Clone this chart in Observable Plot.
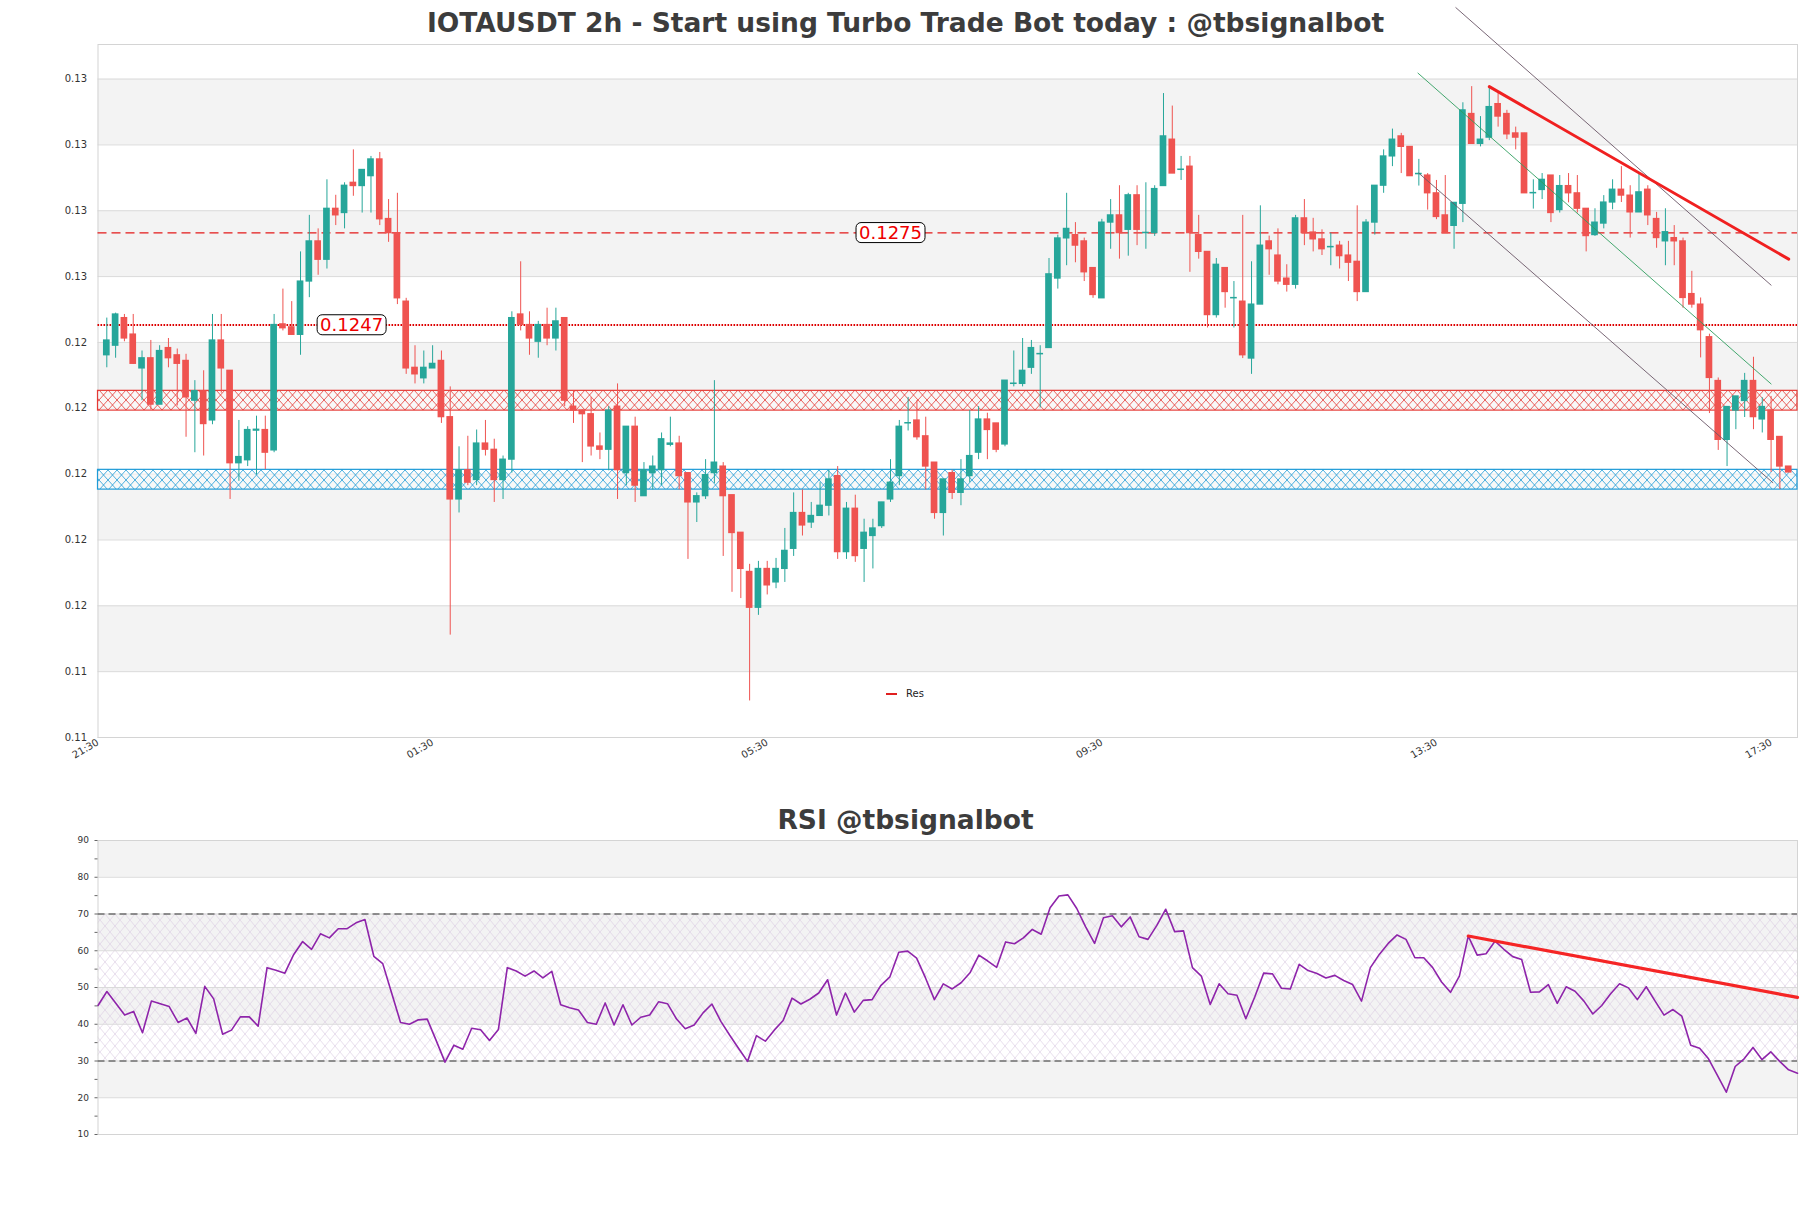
<!DOCTYPE html>
<html><head><meta charset="utf-8">
<script src="https://cdn.jsdelivr.net/npm/d3@7"></script>
<script src="https://cdn.jsdelivr.net/npm/@observablehq/plot@0.6"></script>
<style>
body{margin:0;background:#fff;font-family:"DejaVu Sans",sans-serif;}
#page{position:relative;width:1811px;height:1208px;overflow:hidden;background:#fff;}
.title{position:absolute;left:0;width:1811px;text-align:center;font-weight:bold;font-size:26.5px;color:#3c3c3c;font-family:"DejaVu Sans",sans-serif;}
#main{position:absolute;left:0;top:0;}
#rsi{position:absolute;left:0;top:800px;}
#legend{position:absolute;left:886px;top:688px;font-size:10px;color:#222;display:flex;align-items:center;gap:9px;}
#legend span.l{display:inline-block;width:11px;height:2px;background:#e02020;}
</style></head>
<body><div id="page">
<div class="title" style="top:7px">IOTAUSDT 2h - Start using Turbo Trade Bot today : @tbsignalbot</div>
<div id="main"></div>
<div class="title" style="top:804px">RSI @tbsignalbot</div>
<div id="rsi"></div>
<div id="legend"><span class="l"></span><span>Res</span></div>
</div>
<script>
// ---------- data ----------
const open = [0.12378,0.12407,0.12491,0.12441,0.12338,0.12369,0.12228,0.12400,0.12378,0.12361,
0.12240,0.12269,0.12180,0.12423,0.12331,0.12050,0.12059,0.12149,0.12151,0.12089,
0.12472,0.12463,0.12440,0.12602,0.12724,0.12668,0.12823,0.12810,0.12902,0.12892,
0.12922,0.12973,0.12792,0.12749,0.12541,0.12340,0.12308,0.12338,0.12361,0.12190,
0.11940,0.12029,0.11999,0.12110,0.12091,0.11999,0.12061,0.12502,0.12470,0.12419,
0.12470,0.12429,0.12491,0.12222,0.12210,0.12199,0.12101,0.12091,0.12222,0.12020,
0.12161,0.11950,0.12020,0.12029,0.12106,0.12110,0.12020,0.11931,0.11950,0.12020,
0.12040,0.11953,0.11839,0.11720,0.11611,0.11729,0.11688,0.11729,0.11790,0.11899,
0.11870,0.11890,0.11921,0.12011,0.11780,0.11912,0.11790,0.11829,0.11859,0.11940,
0.12011,0.12171,0.12180,0.12132,0.12052,0.11899,0.12020,0.11960,0.12011,0.12082,
0.12183,0.12171,0.12107,0.12291,0.12291,0.12340,0.12381,0.12400,0.12611,0.12733,
0.12743,0.12724,0.12643,0.12551,0.12781,0.12803,0.12759,0.12864,0.12749,0.12749,
0.12892,0.13033,0.12941,0.12951,0.12743,0.12692,0.12500,0.12643,0.12551,0.12541,
0.12368,0.12532,0.12724,0.12681,0.12611,0.12592,0.12794,0.12751,0.12730,0.12706,
0.12711,0.12681,0.12662,0.12570,0.12781,0.12893,0.12982,0.13043,0.13011,0.12928,
0.12924,0.12870,0.12803,0.12771,0.12838,0.13111,0.13020,0.13039,0.13141,0.13111,
0.13052,0.13052,0.12870,0.12880,0.12924,0.12819,0.12892,0.12870,0.12823,0.12743,
0.12778,0.12842,0.12881,0.12863,0.12812,0.12881,0.12792,0.12724,0.12734,0.12724,
0.12564,0.12532,0.12433,0.12300,0.12121,0.12210,0.12239,0.12300,0.12183,0.12210,
0.12130,0.12040];
const close = [0.12423,0.12502,0.12429,0.12352,0.12369,0.12228,0.12391,0.12369,0.12352,0.12250,
0.12269,0.12169,0.12423,0.12338,0.12050,0.12069,0.12151,0.12152,0.12082,0.12470,
0.12460,0.12440,0.12602,0.12724,0.12668,0.12823,0.12803,0.12893,0.12892,0.12941,
0.12973,0.12791,0.12749,0.12551,0.12338,0.12320,0.12340,0.12352,0.12190,0.11940,
0.12029,0.11991,0.12110,0.12091,0.11999,0.12061,0.12491,0.12470,0.12429,0.12470,
0.12429,0.12481,0.12240,0.12210,0.12199,0.12101,0.12091,0.12210,0.12029,0.12161,
0.11982,0.12029,0.12040,0.12123,0.12110,0.12011,0.11931,0.11950,0.12014,0.12052,
0.11950,0.11838,0.11729,0.11611,0.11729,0.11679,0.11729,0.11784,0.11899,0.11861,
0.11890,0.11921,0.12001,0.11780,0.11912,0.11768,0.11839,0.11852,0.11931,0.11991,
0.12161,0.12172,0.12129,0.12040,0.11899,0.12001,0.11960,0.12001,0.12072,0.12183,
0.12151,0.12091,0.12301,0.12292,0.12331,0.12400,0.12382,0.12624,0.12733,0.12762,
0.12711,0.12630,0.12561,0.12781,0.12803,0.12749,0.12864,0.12759,0.12750,0.12883,
0.13043,0.12930,0.12942,0.12749,0.12692,0.12500,0.12653,0.12570,0.12552,0.12378,
0.12532,0.12711,0.12700,0.12602,0.12592,0.12794,0.12749,0.12730,0.12700,0.12707,
0.12679,0.12659,0.12570,0.12781,0.12893,0.12982,0.13033,0.13011,0.12922,0.12929,
0.12870,0.12798,0.12749,0.12841,0.13122,0.13020,0.13033,0.13132,0.13103,0.13049,
0.13039,0.12870,0.12871,0.12911,0.12810,0.12892,0.12870,0.12823,0.12740,0.12781,
0.12842,0.12881,0.12863,0.12812,0.12873,0.12803,0.12734,0.12752,0.12724,0.12552,
0.12532,0.12454,0.12309,0.12121,0.12221,0.12253,0.12300,0.12190,0.12221,0.12121,
0.12040,0.12022];
const high = [0.12491,0.12506,0.12502,0.12502,0.12391,0.12423,0.12407,0.12429,0.12397,0.12381,
0.12301,0.12331,0.12502,0.12502,0.12331,0.12180,0.12161,0.12193,0.12193,0.12502,
0.12579,0.12541,0.12692,0.12803,0.12762,0.12911,0.12864,0.12902,0.13002,0.12941,
0.12982,0.12994,0.12851,0.12870,0.12551,0.12407,0.12391,0.12407,0.12391,0.12282,
0.12100,0.12132,0.12151,0.12180,0.12123,0.12072,0.12510,0.12662,0.12510,0.12481,
0.12521,0.12521,0.12491,0.12269,0.12212,0.12250,0.12142,0.12222,0.12291,0.12161,
0.12190,0.12052,0.12072,0.12142,0.12190,0.12132,0.12020,0.11960,0.12061,0.12301,
0.12052,0.11953,0.11839,0.11743,0.11752,0.11752,0.11761,0.11852,0.11960,0.11969,
0.11931,0.11991,0.12029,0.12040,0.11931,0.11953,0.11880,0.11880,0.11931,0.12061,
0.12180,0.12250,0.12240,0.12190,0.12052,0.12001,0.12029,0.12061,0.12210,0.12222,
0.12202,0.12171,0.12301,0.12391,0.12429,0.12423,0.12407,0.12672,0.12743,0.12870,
0.12781,0.12734,0.12643,0.12791,0.12851,0.12893,0.12870,0.12893,0.12902,0.12893,
0.13173,0.13135,0.12982,0.12982,0.12803,0.12692,0.12672,0.12643,0.12602,0.12803,
0.12662,0.12832,0.12740,0.12762,0.12653,0.12803,0.12851,0.12794,0.12759,0.12749,
0.12724,0.12724,0.12832,0.12790,0.12893,0.13002,0.13065,0.13052,0.13011,0.12973,
0.12930,0.12909,0.12924,0.12841,0.13145,0.13194,0.13103,0.13194,0.13173,0.13122,
0.13071,0.13052,0.12911,0.12930,0.12924,0.12924,0.12930,0.12924,0.12823,0.12823,
0.12863,0.12911,0.12951,0.12893,0.12928,0.12893,0.12812,0.12823,0.12772,0.12734,
0.12633,0.12552,0.12442,0.12309,0.12221,0.12253,0.12323,0.12372,0.12249,0.12253,
0.12130,0.12040];
const low = [0.12340,0.12369,0.12419,0.12350,0.12240,0.12212,0.12228,0.12340,0.12224,0.12129,
0.12082,0.12072,0.12167,0.12263,0.11940,0.11995,0.12040,0.12014,0.12031,0.12082,
0.12452,0.12440,0.12378,0.12553,0.12621,0.12640,0.12772,0.12762,0.12861,0.12810,
0.12810,0.12772,0.12721,0.12532,0.12320,0.12291,0.12291,0.12338,0.12171,0.11528,
0.11899,0.11982,0.11982,0.12072,0.11931,0.11940,0.12020,0.12452,0.12378,0.12369,
0.12407,0.12391,0.12222,0.12171,0.12052,0.12072,0.12061,0.12027,0.11940,0.11982,
0.11931,0.11950,0.11969,0.11982,0.12100,0.11969,0.11758,0.11870,0.11940,0.11988,
0.11767,0.11658,0.11639,0.11328,0.11588,0.11650,0.11669,0.11688,0.11767,0.11829,
0.11852,0.11890,0.11890,0.11758,0.11758,0.11749,0.11688,0.11729,0.11852,0.11931,
0.11982,0.12148,0.12120,0.11969,0.11880,0.11829,0.11940,0.11921,0.11991,0.12061,
0.12061,0.12082,0.12100,0.12282,0.12282,0.12320,0.12218,0.12400,0.12579,0.12650,
0.12659,0.12602,0.12551,0.12551,0.12700,0.12670,0.12679,0.12711,0.12700,0.12739,
0.12892,0.12930,0.12909,0.12630,0.12670,0.12461,0.12491,0.12521,0.12461,0.12368,
0.12320,0.12532,0.12621,0.12592,0.12570,0.12579,0.12711,0.12692,0.12681,0.12650,
0.12640,0.12602,0.12541,0.12570,0.12743,0.12870,0.12951,0.12930,0.12922,0.12892,
0.12819,0.12790,0.12749,0.12700,0.12781,0.13020,0.13011,0.13030,0.13071,0.13033,
0.13002,0.12870,0.12822,0.12851,0.12781,0.12810,0.12841,0.12810,0.12692,0.12739,
0.12762,0.12820,0.12842,0.12734,0.12812,0.12772,0.12703,0.12650,0.12650,0.12521,
0.12521,0.12370,0.12201,0.12089,0.12040,0.12152,0.12189,0.12152,0.12142,0.12022,
0.11970,0.12022];
const rsi = [45.1,48.9,45.7,42.5,43.5,37.7,46.3,45.6,44.8,40.5,
41.7,37.5,50.3,46.9,37.3,38.4,42.0,42.0,39.5,55.4,
54.7,53.9,59.0,62.5,60.4,64.6,63.5,66.0,66.0,67.6,
68.5,58.5,56.5,48.5,40.5,40.0,41.2,41.4,35.6,29.7,
34.3,33.2,38.9,38.5,35.6,38.6,55.4,54.5,53.1,54.5,
52.6,54.4,45.3,44.5,43.9,40.5,40.0,45.8,39.8,45.3,
39.8,41.9,42.5,46.1,45.6,41.5,38.8,39.8,43.1,45.5,
40.8,37.0,33.4,29.9,36.9,35.4,38.4,41.0,47.1,45.5,
46.8,48.5,52.1,42.5,48.5,43.3,46.5,46.7,50.6,52.9,
59.6,59.9,58.0,52.6,46.7,51.0,49.6,51.3,54.0,58.8,
57.2,55.5,62.4,61.9,63.5,65.8,64.5,71.7,74.9,75.2,
71.5,66.5,62.0,69.0,69.5,66.5,69.2,63.8,63.1,66.9,
71.3,65.2,65.4,55.4,53.1,45.4,51.0,48.3,47.9,41.5,
47.4,53.9,53.7,49.8,49.6,56.3,54.6,53.8,52.6,53.3,
51.9,50.8,46.3,55.4,59.0,62.0,64.3,63.1,58.1,58.1,
55.4,51.5,48.7,53.1,64.0,58.8,59.2,62.6,60.4,58.4,
57.6,48.7,48.8,50.8,45.7,50.2,49.0,46.3,42.8,45.1,
48.3,51.0,49.9,46.7,50.2,46.3,42.5,44.0,42.2,34.3,
33.5,30.6,26.1,21.5,28.5,30.6,33.7,30.4,32.5,29.9,
27.6,26.7];
const yTicks = [0.11217,0.11417,0.11617,0.11817,0.12017,0.12217,0.12417,0.12617,0.12817,0.13017,0.13217];
const xTickPos = [-1, 37, 75, 113, 151, 189];
const xTickLabels = ["21:30","01:30","05:30","09:30","13:30","17:30"];
const levels = [0.1275, 0.1247];
const levelLabels = ["0.1275", "0.1247"];
const resZone = [0.1221, 0.1227];
const supZone = [0.1197, 0.1203];
const resTrend = [{i:157, p:0.13194},{i:191, p:0.12670}];
const chanUpper = [{i:153.2, p:0.13434},{i:189, p:0.12591}];
const chanMid = [{i:148.9, p:0.13235},{i:189, p:0.12291}];
const chanLower = [{i:149, p:0.12931},{i:189.2, p:0.11991}];
const rsiTicks = [10,15,20,25,30,35,40,45,50,55,60,65,70,75,80,85,90];
const rsiBands = [[80,90],[60,70],[40,50],[20,30]];
const rsiLevels = [70, 30];
const rsiTrend = [{i:154, v:64.0},{i:191, v:47.3}];

// ---------- derived tables ----------
const UP = "#26a69a", DOWN = "#ef5350";
const candles = open.map((o, i) => ({i, o, h: high[i], l: low[i], c: close[i]}));
const grayBands = [];
for (let k = 1; k + 1 < yTicks.length; k += 2) grayBands.push({lo: yTicks[k], hi: yTicks[k + 1]});
const zones = [{lo: resZone[0], hi: resZone[1], fill: "url(#hatchRed)", stroke: "#e53935"},
               {lo: supZone[0], hi: supZone[1], fill: "url(#hatchBlue)", stroke: "#1e9bd7"}];
const rsiData = rsi.map((v, i) => ({i, v}));
const W = 1811;

const main = Plot.plot({
  width: W, height: 800,
  marginLeft: 97.5, marginRight: 14, marginTop: 44, marginBottom: 63,
  style: {fontFamily: "DejaVu Sans", fontSize: "10px", background: "transparent", overflow: "visible", color: "#333"},
  x: {domain: [-1, 192]},
  y: {domain: [0.11217, 0.13322]},
  marks: [
    Plot.rect(grayBands, {y1: "lo", y2: "hi", fill: "#f3f3f3"}),
    Plot.gridY(yTicks, {stroke: "#dadada", strokeOpacity: 1, strokeWidth: 1}),
    Plot.frame({stroke: "#d4d4d4"}),
    Plot.rect(zones, {y1: "lo", y2: "hi", fill: d => d.fill, stroke: d => d.stroke, strokeWidth: 1.2}),
    Plot.ruleY([levels[0]], {stroke: "#e41a1a", strokeWidth: 1.2, strokeDasharray: "9,5"}),
    Plot.ruleY([levels[1]], {stroke: "#dd0000", strokeWidth: 2, strokeDasharray: "1.6,1.4"}),
    Plot.ruleX(candles, {x: "i", y1: "l", y2: "h", stroke: d => d.c >= d.o ? UP : DOWN, strokeWidth: 1}),
    Plot.rect(candles, {x1: d => d.i - 0.38, x2: d => d.i + 0.38, y1: "o", y2: "c",
      fill: d => d.c >= d.o ? UP : DOWN, insetTop: -0.6, insetBottom: -0.6}),
    Plot.line(chanUpper, {x: "i", y: "p", stroke: "#6a5666", strokeWidth: 0.9}),
    Plot.line(chanLower, {x: "i", y: "p", stroke: "#6a5666", strokeWidth: 0.9}),
    Plot.line(chanMid, {x: "i", y: "p", stroke: "#2f9e5f", strokeWidth: 0.9}),
    Plot.line(resTrend, {x: "i", y: "p", stroke: "#f02020", strokeWidth: 3}),
    Plot.text([0], {x: 89, y: () => levels[0], text: () => levelLabels[0], fill: "#ee0000", fontSize: 18}),
    Plot.text([0], {x: 27.8, y: () => levels[1], text: () => levelLabels[1], fill: "#ee0000", fontSize: 18}),
    Plot.axisY(yTicks, {tickFormat: d3.format(".2f"), tickSize: 0, tickPadding: 11, fontSize: 10, fill: "#333", label: null}),
    Plot.axisX(xTickPos, {tickFormat: d => xTickLabels[xTickPos.indexOf(d)], tickRotate: -30, tickSize: 0, tickPadding: 4, fontSize: 10, fill: "#333", label: null})
  ]
});

const rsiPlot = Plot.plot({
  width: W, height: 408,
  marginLeft: 97.5, marginRight: 14, marginTop: 40, marginBottom: 74,
  style: {fontFamily: "DejaVu Sans", fontSize: "9px", background: "transparent", overflow: "visible", color: "#333"},
  x: {domain: [0, rsi.length - 1], axis: null},
  y: {domain: [10, 90]},
  marks: [
    Plot.rect(rsiBands, {y1: d => d[0], y2: d => d[1], fill: "#f3f3f3"}),
    Plot.rect([[30, 70]], {y1: d => d[0], y2: d => d[1], fill: "url(#hatchRsi)"}),
    Plot.gridY(rsiTicks.filter(t => t % 10 === 0), {stroke: "#dadada", strokeOpacity: 1}),
    Plot.frame({stroke: "#d4d4d4"}),
    Plot.ruleY(rsiLevels, {stroke: "#333", strokeWidth: 1.2, strokeDasharray: "7,4"}),
    Plot.line(rsiData, {x: "i", y: "v", stroke: "#8e24aa", strokeWidth: 1.6}),
    Plot.line(rsiTrend, {x: "i", y: "v", stroke: "#f52525", strokeWidth: 3.2}),
    Plot.axisY(rsiTicks, {tickFormat: d => d % 10 === 0 ? d : "", tickSize: 3, tickPadding: 6, fontSize: 9, fill: "#333", stroke: "#666", label: null})
  ]
});

function addDefs(svg, html) {
  const ns = "http://www.w3.org/2000/svg";
  const defs = document.createElementNS(ns, "defs");
  defs.innerHTML = html;
  svg.insertBefore(defs, svg.firstChild);
}
addDefs(main, `
  <pattern id="hatchRed" patternUnits="userSpaceOnUse" width="9" height="10">
    <rect width="9" height="10" fill="#fff" fill-opacity="0.45"/>
    <path d="M0,0 L9,10 M9,0 L0,10" stroke="#e53935" stroke-width="0.8" fill="none"/>
  </pattern>
  <pattern id="hatchBlue" patternUnits="userSpaceOnUse" width="9" height="10">
    <rect width="9" height="10" fill="#fff" fill-opacity="0.45"/>
    <path d="M0,0 L9,10 M9,0 L0,10" stroke="#1e9bd7" stroke-width="0.8" fill="none"/>
  </pattern>`);
addDefs(rsiPlot, `
  <pattern id="hatchRsi" patternUnits="userSpaceOnUse" width="10" height="12">
    <path d="M0,0 L10,12 M10,0 L0,12" stroke="#d9c8e0" stroke-width="0.6" fill="none"/>
  </pattern>`);

document.getElementById("main").appendChild(main);
document.getElementById("rsi").appendChild(rsiPlot);

// rounded boxes behind the level labels
const ns = "http://www.w3.org/2000/svg";
main.querySelectorAll("text").forEach(t => {
  if (!levelLabels.includes(t.textContent.trim())) return;
  const b = t.getBBox();
  const r = document.createElementNS(ns, "rect");
  r.setAttribute("x", b.x - 3); r.setAttribute("y", b.y + 1);
  r.setAttribute("width", b.width + 6); r.setAttribute("height", b.height - 1);
  r.setAttribute("rx", 5); r.setAttribute("fill", "#fff");
  r.setAttribute("stroke", "#000"); r.setAttribute("stroke-width", 1);
  if (t.getAttribute("transform")) r.setAttribute("transform", t.getAttribute("transform"));
  t.parentNode.insertBefore(r, t);
});
</script>
</body></html>
